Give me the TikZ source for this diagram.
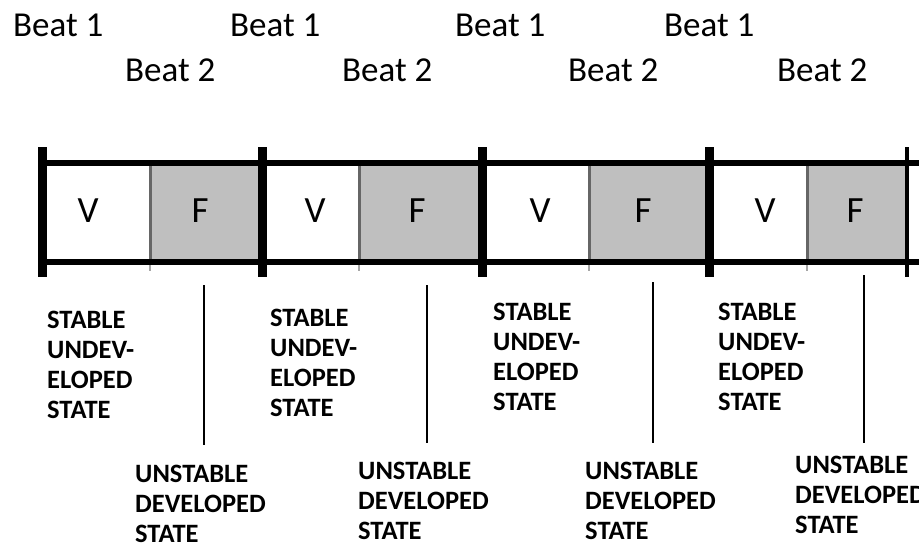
\documentclass[tikz,border=0pt]{standalone}
\usepackage{fontspec}
\setmainfont{Carlito}
\tikzset{
  beatlbl/.style={anchor=west, inner sep=0pt, font=\fontsize{35}{40}\selectfont},
  celllbl/.style={inner sep=0pt, font=\fontsize{37}{40}\selectfont},
  statelbl/.style={anchor=north west, inner sep=0pt, align=left, font=\fontsize{26.5}{30}\selectfont\bfseries},
  heavybar/.style={line width=9pt},
  railline/.style={line width=5.5pt},
  divline/.style={line width=3pt, draw=black!60},
  tickline/.style={line width=1.5pt, draw=black!35},
  markline/.style={line width=1.5pt}
}
\begin{document}
\begin{tikzpicture}[x=1pt,y=-1pt]
\useasboundingbox (0,0) rectangle (919,546);
\fill[white] (0,0) rectangle (919,546);
% beat labels
\node[beatlbl] (b1a) at (13,25) {Beat 1};
\node[beatlbl] (b2a) at (125,70) {Beat 2};
\node[beatlbl] (b1b) at (230,25) {Beat 1};
\node[beatlbl] (b2b) at (342,70) {Beat 2};
\node[beatlbl] (b1c) at (455,25) {Beat 1};
\node[beatlbl] (b2c) at (568,70) {Beat 2};
\node[beatlbl] (b1d) at (664,25) {Beat 1};
\node[beatlbl] (b2d) at (777,70) {Beat 2};
% grey F cells
\foreach \d/\e in {150/262, 359/482, 589/709, 807/907}
  \fill[black!25] (\d,163) rectangle (\e,262);
% dividers
\foreach \d in {150,359,589,807} {
  \draw[divline] (\d,163) -- (\d,262);
  \draw[tickline] (\d,262) -- (\d,271);
}
% rails
\coordinate (tl) at (38,163); \coordinate (tr) at (919,163);
\coordinate (bl) at (38,262); \coordinate (br) at (919,262);
\draw[railline] (tl) -- (tr);
\draw[railline] (bl) -- (br);
% heavy bars
\foreach \b in {42,262,482,709}
  \draw[heavybar] (\b,147) -- (\b,277);
\draw[line width=4pt] (907,147) -- (907,277);
% V and F labels
\foreach \n/\v/\f in {1/88/200, 2/315/417, 3/540/643, 4/765/855} {
  \node[celllbl] (v\n) at (\v,211) {V};
  \node[celllbl] (f\n) at (\f,211) {F};
}
% state labels
\node[statelbl] (s1) at (47,311) {STABLE\\UNDEV-\\ELOPED\\STATE};
\node[statelbl] (s2) at (270,309) {STABLE\\UNDEV-\\ELOPED\\STATE};
\node[statelbl] (s3) at (493,303) {STABLE\\UNDEV-\\ELOPED\\STATE};
\node[statelbl] (s4) at (718,303) {STABLE\\UNDEV-\\ELOPED\\STATE};
\node[statelbl] (u1) at (135,465) {UNSTABLE\\DEVELOPED\\STATE};
\node[statelbl] (u2) at (358,462) {UNSTABLE\\DEVELOPED\\STATE};
\node[statelbl] (u3) at (585,462) {UNSTABLE\\DEVELOPED\\STATE};
\node[statelbl] (u4) at (795,456) {UNSTABLE\\DEVELOPED\\STATE};
% marker lines
\coordinate (m1t) at (204,285); \coordinate (m1b) at (204,445);
\coordinate (m2t) at (427,285); \coordinate (m2b) at (427,443);
\coordinate (m3t) at (653,282); \coordinate (m3b) at (653,443);
\coordinate (m4t) at (864,275); \coordinate (m4b) at (864,443);
\draw[markline] (m1t) -- (m1b);
\draw[markline] (m2t) -- (m2b);
\draw[markline] (m3t) -- (m3b);
\draw[markline] (m4t) -- (m4b);
\end{tikzpicture}
\end{document}
